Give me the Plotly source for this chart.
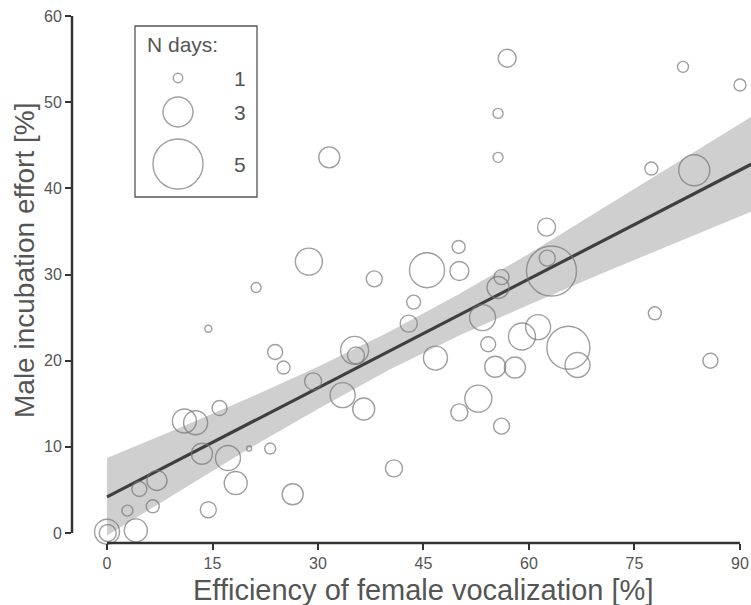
import plotly.graph_objects as go

# ---------------- data ----------------
vocal_eff = [0.0, 0.1, 4.1, 2.9, 6.5, 4.6, 7.1, 14.4, 18.3, 17.2, 13.5, 20.2, 11.0, 12.6, 16.0,
             14.4, 21.2, 23.9, 25.1, 23.2, 26.4, 28.7, 29.3, 31.6, 33.5, 35.2, 35.4, 36.5, 38.0,
             40.8, 42.9, 43.6, 45.5, 46.7, 50.0, 50.1, 50.1, 52.8, 53.4, 54.2, 55.2, 55.6, 56.1,
             56.1, 55.6, 55.6, 56.9, 58.0, 59.0, 61.3, 62.5, 62.6, 63.2, 65.6, 66.9, 77.4, 83.5,
             77.9, 85.8, 81.9, 90.0]
male_effort = [0.15, 0.0, 0.3, 2.6, 3.1, 5.1, 6.1, 2.7, 5.8, 8.7, 9.2, 9.8, 13.0, 12.8, 14.5,
               23.7, 28.5, 21.0, 19.2, 9.8, 4.5, 31.5, 17.6, 43.6, 16.0, 21.2, 20.6, 14.4, 29.5,
               7.5, 24.3, 26.8, 30.5, 20.3, 33.2, 30.4, 14.0, 15.6, 25.0, 21.9, 19.3, 28.5, 29.7,
               12.4, 48.7, 43.6, 55.1, 19.2, 22.8, 23.9, 35.5, 31.9, 30.4, 21.5, 19.5, 42.3, 42.1,
               25.5, 20.0, 54.1, 52.0]
n_days = [2.5, 1.7, 2.3, 1.1, 1.3, 1.5, 2.0, 1.6, 2.3, 2.5, 2.1, 0.5, 2.4, 2.4, 1.5,
          0.7, 1.0, 1.5, 1.3, 1.1, 2.1, 2.7, 1.7, 2.1, 2.5, 2.8, 1.7, 2.2, 1.6,
          1.7, 1.7, 1.4, 3.5, 2.4, 1.3, 1.9, 1.7, 2.7, 2.6, 1.5, 2.1, 2.2, 1.5,
          1.6, 1.0, 1.0, 1.8, 2.1, 2.7, 2.5, 1.8, 1.6, 5.0, 4.3, 2.5, 1.3, 3.1,
          1.3, 1.5, 1.1, 1.2]

# regression fit and confidence band
band_x = [0, 10, 20, 30, 40, 50, 60, 70, 80, 91.6]
band_fit = [4.2, 8.41, 12.63, 16.84, 21.06, 25.27, 29.48, 33.70, 37.91, 42.8]
band_upper = [8.7, 12.1, 15.6, 19.3, 23.3, 27.7, 32.4, 37.4, 42.4, 48.3]
band_lower = [-0.3, 4.7, 9.7, 14.4, 18.9, 22.9, 26.5, 30.0, 33.4, 37.3]

x_ticks = [0, 15, 30, 45, 60, 75, 90]
y_ticks = [0, 10, 20, 30, 40, 50, 60]
legend_days = [1, 3, 5]

# ---------------- styling ----------------
W, H = 751, 605
ML, MR, MT, MB = 72, 0, 5, 62
PX_PER_DAY = 10
FONT = "Liberation Sans, Arial, sans-serif"
TXT = "#555555"
AX = "#333333"
CIRC = "#777777"

fig = go.Figure()

# confidence band
fig.add_trace(go.Scatter(
    x=band_x + band_x[::-1], y=band_upper + band_lower[::-1],
    fill="toself", fillcolor="#cfcfcf", line=dict(width=0),
    mode="lines", hoverinfo="skip", showlegend=False))

# fit line
fig.add_trace(go.Scatter(
    x=band_x, y=band_fit, mode="lines",
    line=dict(color="#3f3f3f", width=3.2), showlegend=False))

# points
fig.add_trace(go.Scatter(
    x=vocal_eff, y=male_effort, mode="markers",
    marker=dict(size=[d * PX_PER_DAY for d in n_days], sizemode="diameter",
                color="rgba(255,255,255,0)", line=dict(color=CIRC, width=1.4)),
    cliponaxis=False, showlegend=False))

# ----- size key on a pixel overlay axis -----
key_x = 178
key_y = [78, 112, 164]
fig.add_trace(go.Scatter(
    x=[key_x] * len(legend_days), y=key_y, mode="markers",
    marker=dict(size=[d * PX_PER_DAY - (0.5 if d == 1 else 0) for d in legend_days],
                color="rgba(255,255,255,0)", line=dict(color=CIRC, width=1.4)),
    xaxis="x2", yaxis="y2", showlegend=False, hoverinfo="skip"))
for d, yy in zip(legend_days, key_y):
    fig.add_annotation(x=240, y=yy, xref="x2", yref="y2", text=str(d), showarrow=False,
                       font=dict(family=FONT, size=21, color=TXT), xanchor="center", yanchor="middle")
fig.add_annotation(x=145, y=44, xref="x2", yref="y2", text="N days:", showarrow=False,
                   font=dict(family=FONT, size=21, color=TXT), xanchor="left", yanchor="middle")
fig.add_shape(type="rect", xref="x2", yref="y2", x0=135, x1=257, y0=26, y1=197,
              line=dict(color="#555555", width=1.3))

# ----- axes lines (detached, R style) -----
fig.add_shape(type="line", xref="paper", yref="y", x0=0, x1=0, y0=y_ticks[0], y1=y_ticks[-1],
              line=dict(color=AX, width=2.5))
fig.add_shape(type="line", xref="x", yref="paper", x0=x_ticks[0], x1=x_ticks[-1], y0=0, y1=0,
              line=dict(color=AX, width=2.5))

# axis titles
fig.add_annotation(x=45, y=0, xref="x", yref="paper", yshift=-47, text="Efficiency of female vocalization [%]",
                   showarrow=False, font=dict(family=FONT, size=29, color=TXT),
                   xanchor="center", yanchor="middle")
fig.add_annotation(x=0, y=261, xref="paper", yref="y2", xshift=-48, text="Male incubation effort [%]",
                   showarrow=False, textangle=-90, font=dict(family=FONT, size=28, color=TXT),
                   xanchor="center", yanchor="middle")

fig.update_layout(
    width=W, height=H,
    margin=dict(l=ML, r=MR, t=MT, b=MB),
    paper_bgcolor="white", plot_bgcolor="white",
    font=dict(family=FONT, color=TXT),
    xaxis=dict(range=[-4.98, 91.57], tickvals=x_ticks, ticks="outside", ticklen=6, tickwidth=2,
               tickcolor=AX, showgrid=False, zeroline=False, showline=False,
               tickfont=dict(size=16, color=TXT)),
    yaxis=dict(range=[-1.16, 61.28], tickvals=y_ticks, ticks="outside", ticklen=6, tickwidth=2,
               tickcolor=AX, showgrid=False, zeroline=False, showline=False,
               tickfont=dict(size=16, color=TXT)),
    xaxis2=dict(range=[ML, W - MR], overlaying="x", visible=False, fixedrange=True),
    yaxis2=dict(range=[H - MB, MT], overlaying="y", visible=False, fixedrange=True),
)

fig.write_html("out.html", config={"displayModeBar": False},
               post_script="document.body.style.margin='0px';document.body.style.overflow='hidden';")
